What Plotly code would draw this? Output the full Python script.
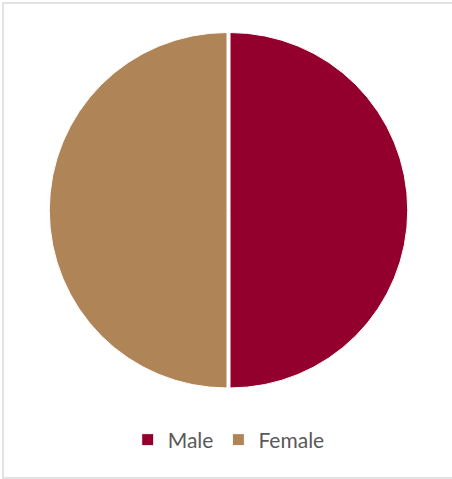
import plotly.graph_objects as go

labels = ["Male", "Female"]
values = [50, 50]
colors = ["#93002E", "#AF8457"]
pulls = [0.017, 0]

W, H = 452, 479

fig = go.Figure(go.Pie(
    labels=labels,
    values=values,
    marker=dict(colors=colors, line=dict(color="white", width=1)),
    pull=pulls,
    sort=False,
    direction="clockwise",
    rotation=0,
    textinfo="none",
    hoverinfo="label+value",
    domain=dict(x=[46 / W, 408 / W], y=[1 - 391 / H, 1 - 29.5 / H]),
))

fig.update_layout(
    width=W, height=H,
    margin=dict(l=0, r=0, t=0, b=0),
    paper_bgcolor="white",
    plot_bgcolor="white",
    showlegend=True,
    legend=dict(
        orientation="h",
        x=0.506, xanchor="center",
        y=1 - 440 / H, yanchor="middle",
        font=dict(family="Lato, Open Sans, sans-serif", size=21, color="#595959"),
        itemwidth=30,
        tracegroupgap=0,
    ),
    shapes=[dict(
        type="rect", xref="paper", yref="paper",
        x0=3 / W, x1=1.05, y0=1 - 478 / H, y1=1 - 3 / H,
        line=dict(color="#D9D9D9", width=1.5),
        fillcolor="rgba(0,0,0,0)",
        layer="below",
    )],
)

fig.write_html(
    "out.html",
    config={"displayModeBar": False},
    post_script="document.body.style.margin='0';document.body.style.overflow='hidden';",
)
